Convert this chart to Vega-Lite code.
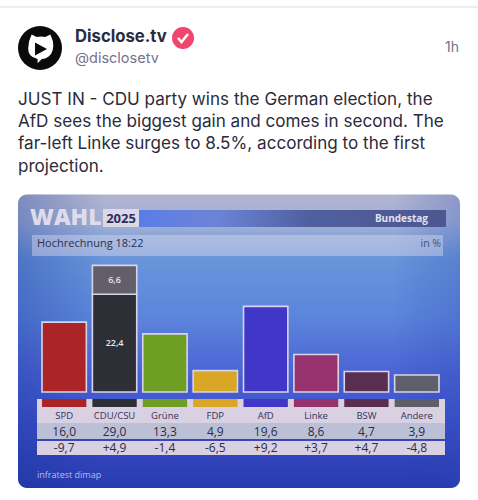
{
"$schema":"https://vega.github.io/schema/vega-lite/v6.json",
"width":478,"height":500,"padding":0,
"autosize":{"type":"fit","contains":"padding"},
"background":"#ffffff",
"config":{"view":{"stroke":null},"text":{"font":"Open Sans"}},
"datasets":{
"bars":[
{"party":"SPD","segment":"SPD","share":16.0},
{"party":"CDU/CSU","segment":"CDU","share":22.4},
{"party":"CDU/CSU","segment":"CSU","share":6.6},
{"party":"Grüne","segment":"Grüne","share":13.3},
{"party":"FDP","segment":"FDP","share":4.9},
{"party":"AfD","segment":"AfD","share":19.6},
{"party":"Linke","segment":"Linke","share":8.6},
{"party":"BSW","segment":"BSW","share":4.7},
{"party":"Andere","segment":"Andere","share":3.9}],
"table":[
{"party":"SPD","name":"SPD","share":"16,0","change":"-9,7","segment":"SPD"},
{"party":"CDU/CSU","name":"CDU/CSU","share":"29,0","change":"+4,9","segment":"CDU"},
{"party":"Grüne","name":"Grüne","share":"13,3","change":"-1,4","segment":"Grüne"},
{"party":"FDP","name":"FDP","share":"4,9","change":"-6,5","segment":"FDP"},
{"party":"AfD","name":"AfD","share":"19,6","change":"+9,2","segment":"AfD"},
{"party":"Linke","name":"Linke","share":"8,6","change":"+3,7","segment":"Linke"},
{"party":"BSW","name":"BSW","share":"4,7","change":"+4,7","segment":"BSW"},
{"party":"Andere","name":"Andere","share":"3,9","change":"-4,8","segment":"Andere"}]
},
"resolve":{"scale":{"x":"independent","y":"independent","color":"independent"}},
"layer":[
{"data":{"values":[{"item":"rule"}]},"mark":{"type":"rect","fill":"#eeeef0"},
 "encoding":{"x":{"field":"item","type":"nominal","axis":null,"scale":{"type":"band","range":[0,478],"padding":0}},
 "y":{"field":"item","type":"nominal","axis":null,"scale":{"type":"band","range":[6,8],"padding":0}}}},
{"data":{"values":[{"item":"avatar"}]},"mark":{"type":"point","filled":true,"shape":"circle","size":1936,"fill":"#0a0a0a","opacity":1},
 "encoding":{"x":{"field":"item","type":"nominal","axis":null,"scale":{"type":"point","range":[40,40]}},
 "y":{"field":"item","type":"nominal","axis":null,"scale":{"type":"point","range":[48,48]}}}},
{"data":{"values":[{"item":"avatar head"}]},"mark":{"type":"point","filled":true,"size":2.9,"fill":"#ffffff","opacity":1,"shape":"M-14,-8 L-11,-16 L-5,-13 Q0,-14 5,-13 L11,-16 L14,-8 Q16,4 9,10 Q5,13 1,13 L-4,18 L-4,13 Q-16,10 -15,0 Z"},
 "encoding":{"x":{"field":"item","type":"nominal","axis":null,"scale":{"type":"point","range":[41,41]}},
 "y":{"field":"item","type":"nominal","axis":null,"scale":{"type":"point","range":[48,48]}}}},
{"data":{"values":[{"item":"play"}]},"mark":{"type":"point","filled":true,"size":4,"fill":"#0a0a0a","opacity":1,"shape":"M-5,-6.5 L7,0 L-5,6.5 Z"},
 "encoding":{"x":{"field":"item","type":"nominal","axis":null,"scale":{"type":"point","range":[40,40]}},
 "y":{"field":"item","type":"nominal","axis":null,"scale":{"type":"point","range":[49,49]}}}},
{"data":{"values":[{"item":"Disclose.tv"}]},"mark":{"type":"text","font":"Inter","fontWeight":700,"fontSize":16.7,"align":"left","baseline":"middle","color":"#2b2b40"},
 "encoding":{"text":{"field":"item"},"x":{"field":"item","type":"nominal","axis":null,"scale":{"type":"point","range":[75,75]}},
 "y":{"field":"item","type":"nominal","axis":null,"scale":{"type":"point","range":[37,37]}}}},
{"data":{"values":[{"item":"badge"}]},"mark":{"type":"point","filled":true,"shape":"circle","size":484,"fill":"#f2456e","opacity":1},
 "encoding":{"x":{"field":"item","type":"nominal","axis":null,"scale":{"type":"point","range":[183,183]}},
 "y":{"field":"item","type":"nominal","axis":null,"scale":{"type":"point","range":[38,38]}}}},
{"data":{"values":[{"item":"check"}]},"mark":{"type":"point","filled":false,"size":4,"stroke":"#ffffff","strokeWidth":2.5,"opacity":1,"shape":"M-5,0 L-1.5,4 L5,-4"},
 "encoding":{"x":{"field":"item","type":"nominal","axis":null,"scale":{"type":"point","range":[183,183]}},
 "y":{"field":"item","type":"nominal","axis":null,"scale":{"type":"point","range":[38,38]}}}},
{"data":{"values":[{"item":"@disclosetv"}]},"mark":{"type":"text","font":"Inter","fontSize":14.5,"align":"left","baseline":"middle","color":"#73738a"},
 "encoding":{"text":{"field":"item"},"x":{"field":"item","type":"nominal","axis":null,"scale":{"type":"point","range":[75,75]}},
 "y":{"field":"item","type":"nominal","axis":null,"scale":{"type":"point","range":[59,59]}}}},
{"data":{"values":[{"item":"1h"}]},"mark":{"type":"text","font":"Inter","fontSize":14,"align":"right","baseline":"middle","color":"#73738a"},
 "encoding":{"text":{"field":"item"},"x":{"field":"item","type":"nominal","axis":null,"scale":{"type":"point","range":[459,459]}},
 "y":{"field":"item","type":"nominal","axis":null,"scale":{"type":"point","range":[48,48]}}}},
{"data":{"values":[{"line":"JUST IN - CDU party wins the German election, the","who":"post"},{"line":"AfD sees the biggest gain and comes in second. The","who":"post"},{"line":"far-left Linke surges to 8.5%, according to the first","who":"post"},{"line":"projection.","who":"post"}]},
 "mark":{"type":"text","font":"Inter","fontSize":17.1,"align":"left","baseline":"middle","color":"#2b2b3a"},
 "encoding":{"text":{"field":"line"},"x":{"field":"who","type":"nominal","axis":null,"scale":{"type":"point","range":[18,18]}},
 "y":{"field":"line","type":"nominal","axis":null,"sort":null,"scale":{"type":"point","padding":0,"range":[100,166.5]}}}},
{"data":{"values":[{"item":"panel"}]},"mark":{"type":"rect","cornerRadius":9,"fill":{"gradient":"linear","x1":0,"y1":0,"x2":0,"y2":1,"stops":[{"offset":0,"color":"#b3b5cf"},{"offset":0.1,"color":"#a0b0d6"},{"offset":0.22,"color":"#6895da"},{"offset":0.42,"color":"#5c84dc"},{"offset":0.62,"color":"#4a62d4"},{"offset":0.8,"color":"#3a4dc8"},{"offset":1,"color":"#2a3bb0"}]}},
 "encoding":{"x":{"field":"item","type":"nominal","axis":null,"scale":{"type":"band","range":[18,460],"padding":0}},
 "y":{"field":"item","type":"nominal","axis":null,"scale":{"type":"band","range":[194.5,488],"padding":0}}}},
{"data":{"values":[{"item":"panel shade"}]},"mark":{"type":"rect","cornerRadius":9,"fill":{"gradient":"linear","x1":0,"y1":0,"x2":1,"y2":0,"stops":[{"offset":0,"color":"rgba(20,50,150,0.32)"},{"offset":0.2,"color":"rgba(20,50,150,0)"},{"offset":0.85,"color":"rgba(20,50,150,0)"},{"offset":1,"color":"rgba(40,70,180,0.25)"}]}},
 "encoding":{"x":{"field":"item","type":"nominal","axis":null,"scale":{"type":"band","range":[18,460],"padding":0}},
 "y":{"field":"item","type":"nominal","axis":null,"scale":{"type":"band","range":[194.5,488],"padding":0}}}},
{"data":{"values":[{"item":"title bar"}]},"mark":{"type":"rect","fill":{"gradient":"linear","x1":0,"y1":0,"x2":1,"y2":0,"stops":[{"offset":0,"color":"#5a7de6"},{"offset":0.25,"color":"#6c84d8"},{"offset":0.55,"color":"#50609f"},{"offset":1,"color":"#4d5792"}]}},
 "encoding":{"x":{"field":"item","type":"nominal","axis":null,"scale":{"type":"band","range":[139,446],"padding":0}},
 "y":{"field":"item","type":"nominal","axis":null,"scale":{"type":"band","range":[210,227],"padding":0}}}},
{"data":{"values":[{"item":"year box"}]},"mark":{"type":"rect","fill":"#dcd8e6"},
 "encoding":{"x":{"field":"item","type":"nominal","axis":null,"scale":{"type":"band","range":[103,139],"padding":0}},
 "y":{"field":"item","type":"nominal","axis":null,"scale":{"type":"band","range":[209,227],"padding":0}}}},
{"data":{"values":[{"item":"WAHL"}]},"mark":{"type":"text","font":"Open Sans","fontWeight":800,"fontSize":23,"align":"left","baseline":"middle","color":"#dfdbe8"},
 "encoding":{"text":{"field":"item"},"x":{"field":"item","type":"nominal","axis":null,"scale":{"type":"point","range":[30,30]}},
 "y":{"field":"item","type":"nominal","axis":null,"scale":{"type":"point","range":[218,218]}}}},
{"data":{"values":[{"item":"2025"}]},"mark":{"type":"text","fontWeight":700,"fontSize":13,"align":"center","baseline":"middle","color":"#2e2f5c"},
 "encoding":{"text":{"field":"item"},"x":{"field":"item","type":"nominal","axis":null,"scale":{"type":"point","range":[121,121]}},
 "y":{"field":"item","type":"nominal","axis":null,"scale":{"type":"point","range":[218.5,218.5]}}}},
{"data":{"values":[{"item":"Bundestag"}]},"mark":{"type":"text","fontWeight":700,"fontSize":10,"align":"right","baseline":"middle","color":"#e4e2ee"},
 "encoding":{"text":{"field":"item"},"x":{"field":"item","type":"nominal","axis":null,"scale":{"type":"point","range":[428,428]}},
 "y":{"field":"item","type":"nominal","axis":null,"scale":{"type":"point","range":[219,219]}}}},
{"data":{"values":[{"item":"subtitle bar"}]},"mark":{"type":"rect","fill":"#d9d6ea","opacity":0.45},
 "encoding":{"x":{"field":"item","type":"nominal","axis":null,"scale":{"type":"band","range":[32,443],"padding":0}},
 "y":{"field":"item","type":"nominal","axis":null,"scale":{"type":"band","range":[235,256],"padding":0}}}},
{"data":{"values":[{"item":"Hochrechnung 18:22"}]},"mark":{"type":"text","fontWeight":500,"fontSize":11,"align":"left","baseline":"middle","color":"#2e3052"},
 "encoding":{"text":{"field":"item"},"x":{"field":"item","type":"nominal","axis":null,"scale":{"type":"point","range":[37,37]}},
 "y":{"field":"item","type":"nominal","axis":null,"scale":{"type":"point","range":[244,244]}}}},
{"data":{"values":[{"item":"in %"}]},"mark":{"type":"text","fontSize":10.5,"align":"right","baseline":"middle","color":"#3f5182"},
 "encoding":{"text":{"field":"item"},"x":{"field":"item","type":"nominal","axis":null,"scale":{"type":"point","range":[441,441]}},
 "y":{"field":"item","type":"nominal","axis":null,"scale":{"type":"point","range":[244,244]}}}},
{"data":{"name":"bars"},"mark":{"type":"bar","stroke":"#d8d4e8","strokeWidth":1.6},
 "encoding":{"x":{"field":"party","type":"nominal","axis":null,"sort":null,"scale":{"type":"band","range":[39,442],"paddingInner":0.12,"paddingOuter":0.06}},
 "y":{"field":"share","type":"quantitative","axis":null,"stack":"zero","scale":{"domain":[0,30],"range":[392,261],"nice":false}},
 "order":{"field":"share","sort":"descending"},
 "color":{"field":"segment","type":"nominal","legend":null,"scale":{"domain":["SPD","CDU","CSU","Grüne","FDP","AfD","Linke","BSW","Andere"],"range":["#ab2528","#2c3036","#625f6b","#6f9e25","#d9a725","#4037c8","#96336f","#5a2e50","#5f5f6a"]}}}},
{"data":{"name":"bars"},
 "transform":[{"stack":"share","groupby":["party"],"sort":[{"field":"share","order":"descending"}],"as":["y0","y1"]},{"calculate":"(datum.y0+datum.y1)/2","as":"mid"},{"calculate":"replace(format(datum.share,'.1f'),'.',',')","as":"label"},{"filter":"datum.party==='CDU/CSU'"}],
 "mark":{"type":"text","fontWeight":600,"fontSize":9,"align":"center","baseline":"middle","color":"#e6e4ee"},
 "encoding":{"text":{"field":"label"},"x":{"field":"party","type":"nominal","axis":null,"sort":null,"scale":{"type":"band","domain":["SPD","CDU/CSU","Grüne","FDP","AfD","Linke","BSW","Andere"],"range":[39,442],"paddingInner":0.12,"paddingOuter":0.06}},
 "y":{"field":"mid","type":"quantitative","axis":null,"scale":{"domain":[0,30],"range":[392,261],"nice":false}}}},
{"data":{"values":[{"row":"top"},{"row":"name"},{"row":"share"},{"row":"change"}]},
 "mark":{"type":"rect"},
 "encoding":{"x":{"datum":"table","type":"nominal","axis":null,"scale":{"type":"band","domain":["table"],"range":[37,445],"padding":0}},
 "y":{"field":"row","type":"nominal","axis":null,"sort":null,"scale":{"type":"band","range":[391,455],"padding":0}},
 "color":{"field":"row","type":"nominal","legend":null,"scale":{"domain":["top","name","share","change"],"range":["#00000000","#d9d0e2","#bcc0d6","#d9d0e2"]}}}},
{"data":{"values":[{"row":"strip"}]},"mark":{"type":"rect","fill":"#d9d0e2"},
 "encoding":{"x":{"datum":"table","type":"nominal","axis":null,"scale":{"type":"band","domain":["table"],"range":[37,445],"padding":0}},
 "y":{"field":"row","type":"nominal","axis":null,"scale":{"type":"band","range":[399,407],"padding":0}}}},
{"data":{"name":"table"},"mark":{"type":"rect"},
 "encoding":{"x":{"field":"party","type":"nominal","axis":null,"sort":null,"scale":{"type":"band","range":[39,442],"paddingInner":0.12,"paddingOuter":0.06}},
 "y":{"datum":"strip","type":"nominal","axis":null,"scale":{"type":"band","domain":["strip"],"range":[399,407],"padding":0}},
 "color":{"field":"segment","type":"nominal","legend":null,"scale":{"domain":["SPD","CDU","CSU","Grüne","FDP","AfD","Linke","BSW","Andere"],"range":["#ab2528","#2c3036","#625f6b","#6f9e25","#d9a725","#4037c8","#96336f","#5a2e50","#5f5f6a"]}}}},
{"data":{"values":[{"item":"separator"}]},"mark":{"type":"rect","fill":"#3a45b8"},
 "encoding":{"x":{"field":"item","type":"nominal","axis":null,"scale":{"type":"band","range":[37,445],"padding":0}},
 "y":{"field":"item","type":"nominal","axis":null,"scale":{"type":"band","range":[439,441],"padding":0}}}},
{"data":{"name":"table"},"mark":{"type":"text","fontSize":9.5,"align":"center","baseline":"middle","color":"#34345a"},
 "encoding":{"text":{"field":"name"},"x":{"field":"party","type":"nominal","axis":null,"sort":null,"scale":{"type":"band","range":[39,442],"paddingInner":0.12,"paddingOuter":0.06}},
 "y":{"datum":"name","type":"nominal","axis":null,"scale":{"type":"point","domain":["name"],"range":[415.5,415.5]}}}},
{"data":{"name":"table"},"mark":{"type":"text","fontSize":12,"align":"center","baseline":"middle","color":"#2c2c48"},
 "encoding":{"text":{"field":"share"},"x":{"field":"party","type":"nominal","axis":null,"sort":null,"scale":{"type":"band","range":[39,442],"paddingInner":0.12,"paddingOuter":0.06}},
 "y":{"datum":"share","type":"nominal","axis":null,"scale":{"type":"point","domain":["share"],"range":[431.5,431.5]}}}},
{"data":{"name":"table"},"mark":{"type":"text","fontSize":12,"align":"center","baseline":"middle","color":"#2c2c48"},
 "encoding":{"text":{"field":"change"},"x":{"field":"party","type":"nominal","axis":null,"sort":null,"scale":{"type":"band","range":[39,442],"paddingInner":0.12,"paddingOuter":0.06}},
 "y":{"datum":"change","type":"nominal","axis":null,"scale":{"type":"point","domain":["change"],"range":[448,448]}}}},
{"data":{"values":[{"item":"infratest dimap"}]},"mark":{"type":"text","fontSize":9,"align":"left","baseline":"middle","color":"#b9bce4"},
 "encoding":{"text":{"field":"item"},"x":{"field":"item","type":"nominal","axis":null,"scale":{"type":"point","range":[37,37]}},
 "y":{"field":"item","type":"nominal","axis":null,"scale":{"type":"point","range":[475,475]}}}}
]
}
